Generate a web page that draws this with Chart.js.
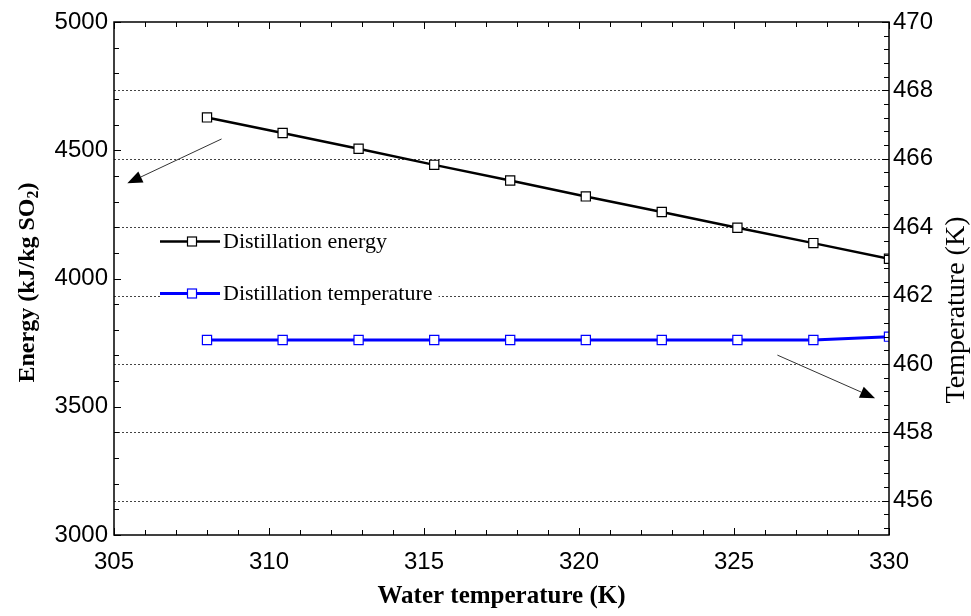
<!DOCTYPE html>
<html>
<head>
<meta charset="utf-8">
<script src="https://cdn.jsdelivr.net/npm/chart.js@4.4.1/dist/chart.umd.min.js"></script>
<style>
  html, body { margin: 0; padding: 0; background: #fff; }
  #wrap { width: 971px; height: 616px; }
</style>
</head>
<body>
<div id="wrap"><canvas id="c" width="971" height="616"></canvas></div>
<script>
// ---- data ----
const waterTemp = [308, 310.44, 312.89, 315.33, 317.78, 320.22, 322.67, 325.11, 327.56, 330];
const distillationEnergy = [4628, 4567, 4506, 4443, 4382, 4320, 4259, 4198, 4138, 4077];
const distillationTemp = [460.7, 460.7, 460.7, 460.7, 460.7, 460.7, 460.7, 460.7, 460.7, 460.8];

const xTicks = [305, 310, 315, 320, 325, 330];
const leftTicks = [3000, 3500, 4000, 4500, 5000];
const rightTicks = [456, 458, 460, 462, 464, 466, 468, 470];
const gridValues = [456, 458, 460, 462, 464, 466, 468];

const seriesLabels = ['Distillation energy', 'Distillation temperature'];
const xTitle = 'Water temperature (K)';
const leftTitleParts = ['Energy (kJ/kg SO', '2', ')'];
const rightTitle = 'Temperature (K)';

// arrow annotations in data coordinates: [x0, y0, x1, y1, axisId]
const arrows = [
  [308.47, 4544, 305.43, 4371, 'y'],
  [326.4, 460.26, 329.55, 459.0, 'y1']
];

const sansTick = { family: 'Liberation Sans, Arial, sans-serif', size: 24 };
const plain = v => String(v);

function drawArrow(ctx, x0, y0, x1, y1) {
  const ang = Math.atan2(y1 - y0, x1 - x0);
  const hl = 15, hw = 6;
  const bx = x1 - hl * Math.cos(ang), by = y1 - hl * Math.sin(ang);
  ctx.save();
  ctx.strokeStyle = '#333';
  ctx.lineWidth = 1;
  ctx.beginPath();
  ctx.moveTo(x0, y0);
  ctx.lineTo(bx, by);
  ctx.stroke();
  ctx.fillStyle = '#000';
  ctx.beginPath();
  ctx.moveTo(x1, y1);
  ctx.lineTo(bx + hw * Math.sin(ang), by - hw * Math.cos(ang));
  ctx.lineTo(bx - hw * Math.sin(ang), by + hw * Math.cos(ang));
  ctx.closePath();
  ctx.fill();
  ctx.restore();
}

const decor = {
  id: 'decor',
  beforeDatasetsDraw(chart) {
    const { ctx, chartArea: a, scales } = chart;
    ctx.save();
    // dotted grid lines (right axis majors)
    ctx.strokeStyle = '#444';
    ctx.lineWidth = 1;
    ctx.setLineDash([2, 2]);
    gridValues.forEach(v => {
      const y = Math.round(scales.y1.getPixelForValue(v)) + 0.5;
      ctx.beginPath();
      ctx.moveTo(a.left, y);
      ctx.lineTo(a.right, y);
      ctx.stroke();
    });
    ctx.setLineDash([]);
    // legend
    ctx.font = '22px "Liberation Serif", "Times New Roman", serif';
    ctx.textBaseline = 'middle';
    const x0 = a.left + 46;
    const rowsY = [a.top + 219.5, a.top + 271.5];
    chart.data.datasets.forEach((ds, i) => {
      const y = rowsY[i];
      const tw = ctx.measureText(ds.label).width;
      ctx.fillStyle = '#fff';
      ctx.fillRect(x0, y - 12, 63 + tw + 6, 24);
      ctx.strokeStyle = ds.borderColor;
      ctx.lineWidth = ds.borderWidth;
      ctx.beginPath();
      ctx.moveTo(x0, y);
      ctx.lineTo(x0 + 60, y);
      ctx.stroke();
      ctx.fillStyle = '#fff';
      ctx.lineWidth = 1.2;
      ctx.fillRect(x0 + 27.5, y - 4.5, 9, 9);
      ctx.strokeRect(x0 + 27.5, y - 4.5, 9, 9);
      ctx.fillStyle = '#000';
      ctx.textAlign = 'left';
      ctx.fillText(ds.label, x0 + 63, y + 1);
    });
    ctx.restore();
  },
  afterDraw(chart) {
    const { ctx, chartArea: a, scales } = chart;
    ctx.save();
    // frame
    ctx.strokeStyle = '#000';
    ctx.lineWidth = 1.5;
    ctx.strokeRect(a.left, a.top, a.right - a.left, a.bottom - a.top);
    ctx.lineWidth = 1;
    // inward ticks: x (every 1 K), top & bottom
    for (let v = 305; v <= 330; v++) {
      const len = v % 5 === 0 ? 7 : 5;
      const x = Math.round(scales.x.getPixelForValue(v)) + 0.5;
      ctx.beginPath();
      ctx.moveTo(x, a.bottom); ctx.lineTo(x, a.bottom - len);
      ctx.moveTo(x, a.top); ctx.lineTo(x, a.top + len);
      ctx.stroke();
    }
    // left ticks every 100
    for (let v = 3000; v <= 5000; v += 100) {
      const len = v % 500 === 0 ? 7 : 5;
      const y = Math.round(scales.y.getPixelForValue(v)) + 0.5;
      ctx.beginPath();
      ctx.moveTo(a.left, y); ctx.lineTo(a.left + len, y);
      ctx.stroke();
    }
    // right ticks every 0.4 K
    for (let k = 0; k <= 37; k++) {
      const v = 470 - k * 0.4;
      const len = k % 5 === 0 ? 7 : 5;
      const y = Math.round(scales.y1.getPixelForValue(v)) + 0.5;
      ctx.beginPath();
      ctx.moveTo(a.right, y); ctx.lineTo(a.right - len, y);
      ctx.stroke();
    }
    // arrows
    arrows.forEach(([xa, ya, xb, yb, ax]) => {
      drawArrow(ctx,
        scales.x.getPixelForValue(xa), scales[ax].getPixelForValue(ya),
        scales.x.getPixelForValue(xb), scales[ax].getPixelForValue(yb));
    });
    // axis titles
    ctx.fillStyle = '#000';
    ctx.textAlign = 'center';
    ctx.textBaseline = 'middle';
    ctx.font = 'bold 25px "Liberation Serif", "Times New Roman", serif';
    ctx.fillText(xTitle, (a.left + a.right) / 2, 597);

    // left title (rotated, with subscript)
    ctx.save();
    ctx.translate(28, (a.top + a.bottom) / 2 + 4);
    ctx.rotate(-Math.PI / 2);
    const mainFont = 'bold 24px "Liberation Serif", "Times New Roman", serif';
    const subFont = 'bold 16px "Liberation Serif", "Times New Roman", serif';
    ctx.font = mainFont;
    const w0 = ctx.measureText(leftTitleParts[0]).width;
    const w2 = ctx.measureText(leftTitleParts[2]).width;
    ctx.font = subFont;
    const w1 = ctx.measureText(leftTitleParts[1]).width;
    let sx = -(w0 + w1 + w2) / 2;
    ctx.textAlign = 'left';
    ctx.font = mainFont;
    ctx.fillText(leftTitleParts[0], sx, 0);
    ctx.font = subFont;
    ctx.fillText(leftTitleParts[1], sx + w0, 6);
    ctx.font = mainFont;
    ctx.fillText(leftTitleParts[2], sx + w0 + w1, 0);
    ctx.restore();

    // right title
    ctx.save();
    ctx.translate(957, 310);
    ctx.rotate(-Math.PI / 2);
    ctx.textAlign = 'center';
    ctx.font = '28px "Liberation Serif", "Times New Roman", serif';
    ctx.fillText(rightTitle, 0, 0);
    ctx.restore();

    ctx.restore();
  }
};

new Chart(document.getElementById('c'), {
  type: 'line',
  data: {
    datasets: [
      {
        label: seriesLabels[0],
        data: waterTemp.map((x, i) => ({ x, y: distillationEnergy[i] })),
        yAxisID: 'y',
        borderColor: '#000000',
        borderWidth: 2.5,
        pointStyle: 'rect',
        pointRadius: 6.5,
        pointBackgroundColor: '#ffffff',
        pointBorderColor: '#000000',
        pointBorderWidth: 1.2,
        tension: 0
      },
      {
        label: seriesLabels[1],
        data: waterTemp.map((x, i) => ({ x, y: distillationTemp[i] })),
        yAxisID: 'y1',
        borderColor: '#0000ff',
        borderWidth: 3,
        pointStyle: 'rect',
        pointRadius: 6.5,
        pointBackgroundColor: '#ffffff',
        pointBorderColor: '#0000ff',
        pointBorderWidth: 1.2,
        tension: 0
      }
    ]
  },
  options: {
    responsive: false,
    animation: false,
    layout: { padding: { left: 0, right: 0, top: 22, bottom: 0 } },
    plugins: { legend: { display: false }, tooltip: { enabled: false } },
    scales: {
      x: {
        type: 'linear',
        min: 305, max: 330,
        afterBuildTicks: s => { s.ticks = xTicks.map(v => ({ value: v })); },
        afterFit: s => { s.height = 81; },
        ticks: { font: sansTick, color: '#000', padding: 13, maxRotation: 0, callback: plain },
        grid: { display: false, drawTicks: false },
        border: { display: false }
      },
      y: {
        position: 'left',
        min: 3000, max: 5000,
        afterBuildTicks: s => { s.ticks = leftTicks.map(v => ({ value: v })); },
        afterFit: s => { s.width = 114; },
        ticks: { font: sansTick, color: '#000', padding: 6, callback: plain },
        grid: { display: false, drawTicks: false },
        border: { display: false }
      },
      y1: {
        position: 'right',
        min: 455, max: 470,
        afterBuildTicks: s => { s.ticks = rightTicks.map(v => ({ value: v })); },
        afterFit: s => { s.width = 82; },
        ticks: { font: sansTick, color: '#000', padding: 4, callback: plain },
        grid: { display: false, drawTicks: false },
        border: { display: false }
      }
    }
  },
  plugins: [decor]
});
</script>
</body>
</html>
